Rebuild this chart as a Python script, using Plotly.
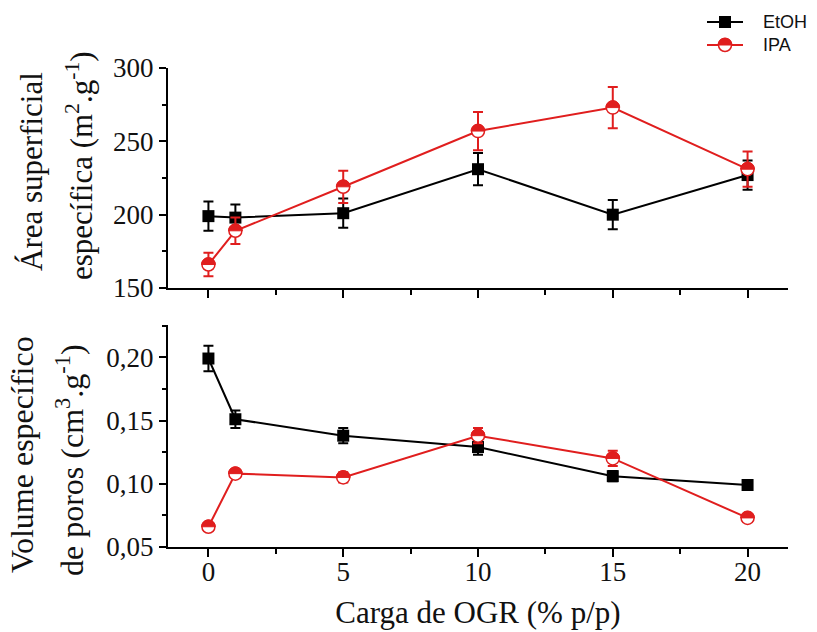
import plotly.graph_objects as go

# OGR loading (% w/w)
carga = [0, 1, 5, 10, 15, 20]

# Specific surface area (m2/g)
area_etoh = [199, 198, 201, 231, 200, 227]
area_etoh_err = [10, 9, 10, 11, 10, 10]
area_ipa = [166, 189, 219, 257, 273, 231]
area_ipa_err = [8, 9, 11, 13, 14, 12]

# Specific pore volume (cm3/g)
vol_etoh = [0.199, 0.151, 0.138, 0.129, 0.106, 0.099]
vol_etoh_err = [0.010, 0.007, 0.006, 0.006, 0.004, 0.002]
vol_ipa = [0.066, 0.108, 0.105, 0.138, 0.120, 0.073]
vol_ipa_err = [0.003, 0.003, 0.004, 0.006, 0.006, 0.003]

x_ticks = [0, 5, 10, 15, 20]
series_names = ["EtOH", "IPA"]

BLACK = "#000000"
RED = "#e01e1e"
SERIF = "Liberation Serif"
TEXT = "#111111"

W, H = 817, 632
L, R, T, B = 168, 29, 68, 85
PW, PH = W - L - R, H - T - B


def px_x(px):
    return (px - L) / PW


def px_y(py):
    return (H - B - py) / PH


# upper half of a circle (pixel units, y up), used to half-fill the IPA markers
def half_disc(r):
    k = 0.5523 * r
    return (f"M {-r},0 C {-r},{k} {-k},{r} 0,{r} "
            f"C {k},{r} {r},{k} {r},0 Z")


HALF_PATH = half_disc(6.9)
SQUARE_PATH = "M -6,-6 L 6,-6 L 6,6 L -6,6 Z"

fig = go.Figure()
shapes = []


def add_panel(xa, ya, etoh, etoh_err, ipa, ipa_err):
    fig.add_trace(go.Scatter(
        x=carga, y=etoh, name=series_names[0], mode="lines+markers",
        xaxis=xa, yaxis=ya, showlegend=False,
        line=dict(color=BLACK, width=2),
        marker=dict(symbol="square", size=12, color=BLACK),
        error_y=dict(type="data", array=etoh_err, color=BLACK,
                     thickness=2, width=5),
    ))
    fig.add_trace(go.Scatter(
        x=carga, y=ipa, name=series_names[1], mode="lines+markers",
        xaxis=xa, yaxis=ya, showlegend=False,
        line=dict(color=RED, width=2),
        marker=dict(symbol="circle", size=13, color="white",
                    line=dict(color=RED, width=1.5)),
        error_y=dict(type="data", array=ipa_err, color=RED,
                     thickness=2, width=5),
    ))
    for xv, yv in zip(carga, ipa):
        shapes.append(dict(
            type="path", xref=xa, yref=ya,
            xsizemode="pixel", ysizemode="pixel",
            xanchor=xv, yanchor=yv, path=HALF_PATH,
            fillcolor=RED, line=dict(color=RED, width=1), layer="above",
        ))


add_panel("x", "y", area_etoh, area_etoh_err, area_ipa, area_ipa_err)
add_panel("x2", "y2", vol_etoh, vol_etoh_err, vol_ipa, vol_ipa_err)

# legend box in the top-right corner: line sample, symbol, label
LEG_X0, LEG_X1, LEG_MID, LEG_TXT = 707, 743, 725, 761
LEG_ROWS = [22, 45]
for name, color, row in zip(series_names, [BLACK, RED], LEG_ROWS):
    ly = px_y(row)
    shapes.append(dict(type="line", xref="paper", yref="paper",
                       x0=px_x(LEG_X0), x1=px_x(LEG_X1), y0=ly, y1=ly,
                       line=dict(color=color, width=2), layer="above"))
    anchor = dict(xref="paper", yref="paper", xsizemode="pixel",
                  ysizemode="pixel", xanchor=px_x(LEG_MID), yanchor=ly,
                  layer="above")
    if name == "EtOH":
        shapes.append(dict(anchor, type="path", path=SQUARE_PATH,
                           fillcolor=BLACK, line=dict(width=0)))
    else:
        shapes.append(dict(anchor, type="circle", x0=-6.5, x1=6.5,
                           y0=-6.5, y1=6.5, fillcolor="white",
                           line=dict(color=RED, width=1.5)))
        shapes.append(dict(anchor, type="path", path=HALF_PATH,
                           fillcolor=RED, line=dict(color=RED, width=1)))
    fig.add_annotation(text=name, xref="paper", yref="paper",
                       x=px_x(LEG_TXT), y=ly, xanchor="left",
                       yanchor="middle", showarrow=False,
                       font=dict(family="Liberation Sans", size=18,
                                 color=TEXT))

axis_common = dict(
    showline=True, linecolor=BLACK, linewidth=2, mirror=False,
    ticks="outside", ticklen=7, tickwidth=2, tickcolor=BLACK,
    showgrid=False, zeroline=False,
    tickfont=dict(family=SERIF, size=27, color=TEXT),
)
x_minor = dict(ticks="outside", ticklen=5, tickwidth=2,
               tickcolor=BLACK, dtick=2.5, tick0=0)

top_bottom = px_y(288)
bot_top = px_y(325)

fig.update_layout(
    width=W, height=H,
    margin=dict(l=L, r=R, t=T, b=B, autoexpand=False),
    paper_bgcolor="white", plot_bgcolor="white",
    separators=",.",
    showlegend=False,
    shapes=shapes,
    xaxis=dict(axis_common, domain=[0, 1], anchor="y", range=[-1.5, 21.5],
               tickvals=x_ticks, showticklabels=False, ticklen=8,
               minor=x_minor),
    yaxis=dict(axis_common, domain=[top_bottom, 1], anchor="x",
               range=[150, 300], dtick=50, tick0=150,
               minor=dict(ticks="outside", ticklen=4, tickwidth=2,
                          tickcolor=BLACK, dtick=25, tick0=150)),
    xaxis2=dict(axis_common, domain=[0, 1], anchor="y2", range=[-1.5, 21.5],
                tickvals=x_ticks, ticklen=8, ticklabelstandoff=-8,
                minor=x_minor,
                title=dict(text="Carga de OGR (% p/p)", standoff=15,
                           font=dict(family=SERIF, size=31, color=TEXT))),
    yaxis2=dict(axis_common, domain=[0, bot_top], anchor="x2",
                range=[0.05, 0.2255], dtick=0.05, tick0=0.05,
                tickformat=".2f",
                minor=dict(ticks="outside", ticklen=4, tickwidth=2,
                           tickcolor=BLACK, dtick=0.025, tick0=0.05)),
)

titles = [
    ("Área superficial", 31, 172, 31),
    ("específica (m<sup>2</sup>.g<sup>-1</sup>)", 79, 166, 31),
    ("Volume específico", 22, 455, 32),
    ("de poros (cm<sup>3</sup>.g<sup>-1</sup>)", 70, 460, 32),
]
for text, cx, cy, size in titles:
    fig.add_annotation(text=text, xref="paper", yref="paper",
                       x=px_x(cx), y=px_y(cy), xanchor="center",
                       yanchor="middle", textangle=-90, showarrow=False,
                       font=dict(family=SERIF, size=size, color=TEXT))

fig.write_html("out.html")
